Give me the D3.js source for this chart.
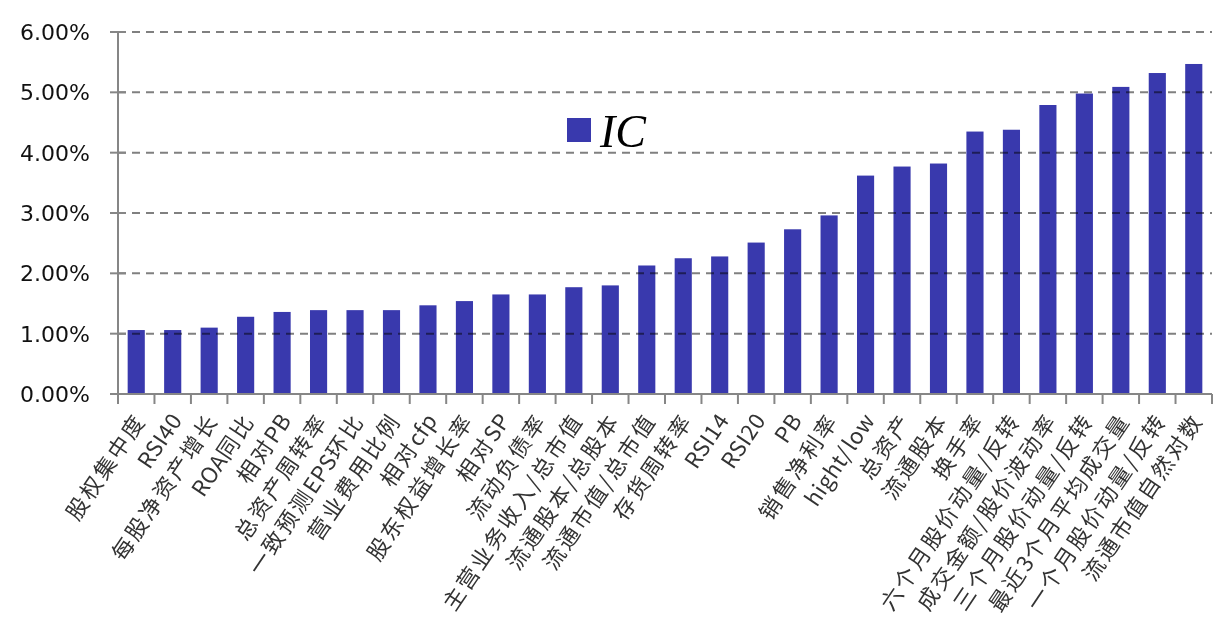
<!DOCTYPE html>
<html><head><meta charset="utf-8">
<script src="https://cdn.jsdelivr.net/npm/d3@7"></script>
<style>
html,body{margin:0;padding:0;background:#fff;}
svg{display:block;}
</style></head>
<body>
<svg id="chart" width="1224" height="639"></svg>
<script>
const categories = ["股权集中度","RSI40","每股净资产增长","ROA同比","相对PB","总资产周转率","一致预测EPS环比","营业费用比例","相对cfp","股东权益增长率","相对SP","流动负债率","主营业务收入/总市值","流通股本/总股本","流通市值/总市值","存货周转率","RSI14","RSI20","PB","销售净利率","hight/low","总资产","流通股本","换手率","六个月股价动量/反转","成交金额/股价波动率","三个月股价动量/反转","最近3个月平均成交量","一个月股价动量/反转","流通市值自然对数"];
const icValues = [1.06,1.06,1.10,1.28,1.36,1.39,1.39,1.39,1.47,1.54,1.65,1.65,1.77,1.80,2.13,2.25,2.28,2.51,2.73,2.96,3.62,3.77,3.82,4.35,4.38,4.79,4.98,5.09,5.32,5.47];
const yTicks = [0,1,2,3,4,5,6];
const yTickLabels = ["0.00%","1.00%","2.00%","3.00%","4.00%","5.00%","6.00%"];
const seriesName = "IC";

const svg = d3.select("#chart");
const L = 118, R = 1212, T = 32, B = 394;
const x = d3.scaleBand().domain(categories).range([L, R]).paddingInner(0.53).paddingOuter(0.265);
const y = d3.scaleLinear().domain([0, 6]).range([B, T]);
const axisColor = "#868686";
const barColor = "#3939ad";

// bars
svg.append("g").selectAll("rect").data(categories).join("rect")
  .attr("x", d => x(d)).attr("width", x.bandwidth())
  .attr("y", (d,i) => y(icValues[i])).attr("height", (d,i) => y(0) - y(icValues[i]))
  .attr("fill", barColor);

// gridlines (over bars, multiply)
svg.append("g").selectAll("line").data(yTicks.filter(v => v > 0)).join("line")
  .attr("x1", L).attr("x2", R).attr("y1", d => y(d)).attr("y2", d => y(d))
  .attr("stroke", "#808080").attr("stroke-width", 2).attr("stroke-dasharray", "8,6")
  .style("mix-blend-mode", "multiply");

// y axis
const gy = svg.append("g");
gy.append("line").attr("x1", L).attr("x2", L).attr("y1", y(6)).attr("y2", y(0) + 10)
  .attr("stroke", axisColor).attr("stroke-width", 2);
gy.selectAll("line.tk").data(yTicks).join("line").attr("class","tk")
  .attr("x1", L - 8).attr("x2", L + 8).attr("y1", d => y(d)).attr("y2", d => y(d))
  .attr("stroke", axisColor).attr("stroke-width", 2);
gy.selectAll("text").data(yTicks).join("text")
  .attr("x", L - 28).attr("y", d => y(d)).attr("dy", "0.36em")
  .attr("text-anchor", "end")
  .style("font-family", "DejaVu Sans, sans-serif").style("font-size", "22px").attr("fill", "#111")
  .text((d,i) => yTickLabels[i]);

// x axis
const gx = svg.append("g");
gx.append("line").attr("x1", L - 8).attr("x2", R).attr("y1", y(0)).attr("y2", y(0))
  .attr("stroke", axisColor).attr("stroke-width", 2);
const step = x.step();
const off = (step - x.bandwidth()) / 2;
const bounds = categories.map(d => x(d) - off).concat([x(categories[categories.length-1]) + x.bandwidth() + off]);
gx.selectAll("line.tk").data(bounds).join("line").attr("class","tk")
  .attr("x1", d => d).attr("x2", d => d).attr("y1", y(0)).attr("y2", y(0) + 10)
  .attr("stroke", axisColor).attr("stroke-width", 2);
const labels = gx.selectAll("text").data(categories).join("text")
  .attr("transform", d => `translate(${x(d) + x.bandwidth()/2 + 4},${y(0) + 22}) rotate(-56)`)
  .attr("text-anchor", "end").attr("dy", "0.35em")
  .style("font-family", "'Noto Sans CJK SC', sans-serif").style("font-size", "22px")
  .attr("fill", "#333");
labels.each(function(d) {
  const runs = d.match(/[A-Za-z0-9]+|[^A-Za-z0-9]+/g);
  const t = d3.select(this);
  runs.forEach(r => {
    const latin = /^[A-Za-z0-9]+$/.test(r);
    t.append("tspan").style("letter-spacing", latin ? "0.5px" : "2.5px").text(r);
  });
});

// legend
svg.append("rect").attr("x", 567).attr("y", 118).attr("width", 24).attr("height", 24).attr("fill", barColor);
svg.append("text").attr("x", 600).attr("y", 147)
  .style("font-family", "'Liberation Serif', serif").style("font-style", "italic").style("font-size", "46px")
  .attr("fill", "#000").text(seriesName);
</script>
</body></html>
